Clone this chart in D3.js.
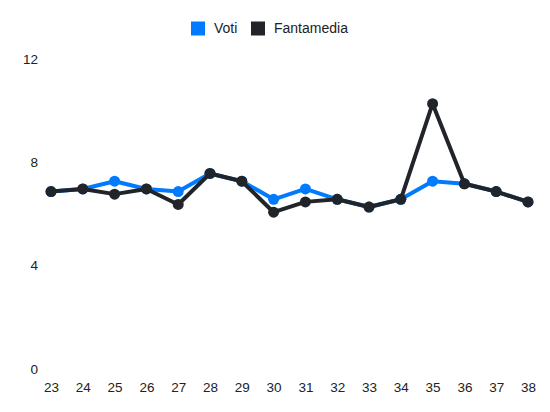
<!DOCTYPE html>
<html>
<head>
<meta charset="utf-8">
<script src="https://cdn.jsdelivr.net/npm/d3@7"></script>
<style>
  body { margin: 0; background: #fff; }
  text { font-family: "Liberation Sans", Arial, sans-serif; fill: #222; }
</style>
</head>
<body>
<div id="chart"></div>
<script>
(function (d3) {
    'use strict';

    // giornate
    var rounds = ['23', '24', '25', '26', '27', '28', '29', '30',
                  '31', '32', '33', '34', '35', '36', '37', '38'];
    var voti = [6.85, 6.95, 7.25, 6.95, 6.85, 7.55, 7.25, 6.55,
                6.95, 6.55, 6.25, 6.55, 7.25, 7.15, 6.85, 6.45];
    var fantamedia = [6.85, 6.95, 6.75, 6.95, 6.35, 7.55, 7.25, 6.05,
                      6.45, 6.55, 6.25, 6.55, 10.25, 7.15, 6.85, 6.45];
    var yTicks = [0, 4, 8, 12];

    var width = 550,
        height = 412;

    var series = [
        { name: 'Voti', values: voti, color: '#007bff' },
        { name: 'Fantamedia', values: fantamedia, color: '#212529' }
    ];

    var svg = d3.select('#chart').append('svg')
        .attr('width', width)
        .attr('height', height);

    var x = d3.scalePoint().domain(rounds).range([51, 528]);
    var y = d3.scaleLinear().domain([0, 12]).range([368.5, 58.5]);

    // y axis labels only
    var yAxis = svg.append('g')
        .attr('transform', 'translate(38,0)')
        .call(d3.axisLeft(y).tickValues(yTicks).tickSize(0).tickPadding(0));
    yAxis.select('.domain').remove();
    yAxis.selectAll('text')
        .attr('dy', '0.35em')
        .style('font-size', '13.5px')
        .style('font-family', '"Liberation Sans", Arial, sans-serif')
        .attr('fill', '#222');

    // x axis labels only
    var xAxis = svg.append('g')
        .attr('transform', 'translate(0,382)')
        .call(d3.axisBottom(x).tickSize(0).tickPadding(0));
    xAxis.select('.domain').remove();
    xAxis.selectAll('text')
        .attr('dy', '0.71em')
        .style('font-size', '13.5px')
        .style('font-family', '"Liberation Sans", Arial, sans-serif')
        .attr('fill', '#222');

    var line = d3.line()
        .x(function (d, i) { return x(rounds[i]); })
        .y(function (d) { return y(d); });

    series.forEach(function (s) {
        var g = svg.append('g');
        g.append('path')
            .attr('d', line(s.values))
            .attr('fill', 'none')
            .attr('stroke', s.color)
            .attr('stroke-width', 4)
            .attr('stroke-linejoin', 'round');
        g.selectAll('circle').data(s.values).enter()
            .append('circle')
                .attr('cx', function (d, i) { return x(rounds[i]); })
                .attr('cy', function (d) { return y(d); })
                .attr('r', 5.5)
                .attr('fill', s.color);
    });

    // legend
    var legend = svg.append('g').attr('transform', 'translate(191,21.5)');
    var offsets = [0, 60];
    series.forEach(function (s, i) {
        var item = legend.append('g').attr('transform', 'translate(' + offsets[i] + ',0)');
        item.append('rect')
            .attr('width', 14)
            .attr('height', 14)
            .attr('fill', s.color);
        item.append('text')
            .attr('x', 23)
            .attr('y', 11.5)
            .style('font-size', '14px')
            .text(s.name);
    });
})(d3);
</script>
</body>
</html>
